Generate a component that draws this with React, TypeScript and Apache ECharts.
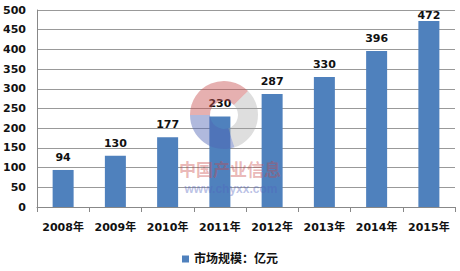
import React, { useEffect, useRef } from "react";
import * as echarts from "echarts";

const categories = ["2008年", "2009年", "2010年", "2011年", "2012年", "2013年", "2014年", "2015年"];
const values = [94, 130, 177, 230, 287, 330, 396, 472];
const seriesName = "市场规模：亿元";

export default function App() {
  const ref = useRef<HTMLDivElement>(null);
  useEffect(() => {
    const chart = echarts.init(ref.current!, null, { renderer: "svg" });
    const font = "Tahoma, 'DejaVu Sans', 'Noto Sans CJK SC', sans-serif";
    const data = values.map((v, i) =>
      i === values.length - 1 ? { value: v, label: { distance: 0 } } : v
    );
    chart.setOption({
      animation: false,
      textStyle: { fontFamily: font },
      grid: { left: 37, right: 5, top: 10, bottom: 64 },
      legend: {
        bottom: 1,
        left: "center",
        itemWidth: 7,
        itemHeight: 7,
        icon: "rect",
        itemGap: 4,
        textStyle: { fontSize: 12, fontWeight: "bold", color: "#111", fontFamily: font },
      },
      graphic: [
        { type: "sector", shape: { cx: 224, cy: 115, r: 34, r0: 14, startAngle: Math.PI * 1.0, endAngle: Math.PI * 1.75 }, style: { fill: "rgba(200,80,80,0.45)" }, z: 10 },
        { type: "sector", shape: { cx: 224, cy: 115, r: 34, r0: 14, startAngle: Math.PI * 0.4, endAngle: Math.PI * 1.0 }, style: { fill: "rgba(80,100,180,0.45)" }, z: 10 },
        { type: "sector", shape: { cx: 224, cy: 115, r: 34, r0: 14, startAngle: Math.PI * 1.75, endAngle: Math.PI * 2.4 }, style: { fill: "rgba(160,160,160,0.35)" }, z: 10 },
        { type: "text", x: 230, y: 168, style: { text: "中国产业信息", fontSize: 17, fontWeight: "bold", fill: "rgba(200,70,70,0.4)", align: "center", verticalAlign: "middle", fontFamily: "'Noto Sans CJK SC', sans-serif" }, z: 10 },
        { type: "text", x: 231, y: 189, style: { text: "www.chyxx.com", fontSize: 12, fontWeight: "bold", fill: "rgba(80,100,190,0.4)", align: "center", verticalAlign: "middle", fontFamily: "Arial, 'Liberation Sans', sans-serif" }, z: 10 },
      ],
      xAxis: {
        type: "category",
        data: categories,
        axisLine: { lineStyle: { color: "#888" } },
        axisTick: { show: true, length: 5, lineStyle: { color: "#888" } },
        axisLabel: { interval: 0, fontSize: 11, fontWeight: "bold", color: "#111", margin: 15, fontFamily: font },
      },
      yAxis: {
        type: "value",
        min: 0,
        max: 500,
        interval: 50,
        axisLine: { show: true, lineStyle: { color: "#888" } },
        axisTick: { show: false },
        splitLine: { lineStyle: { color: "#999" } },
        axisLabel: { fontSize: 11, fontWeight: "bold", color: "#111", margin: 11, fontFamily: font },
      },
      series: [
        {
          name: seriesName,
          type: "bar",
          data,
          barWidth: 21,
          itemStyle: { color: "#4F81BD" },
          label: { show: true, position: "top", distance: 7, fontSize: 11, fontWeight: "bold", color: "#111", fontFamily: font },
        },
      ],
    });
    return () => chart.dispose();
  }, []);
  return <div ref={ref} style={{ width: 460, height: 271, position: "absolute", left: 0, top: 0, background: "#fff" }} />;
}
